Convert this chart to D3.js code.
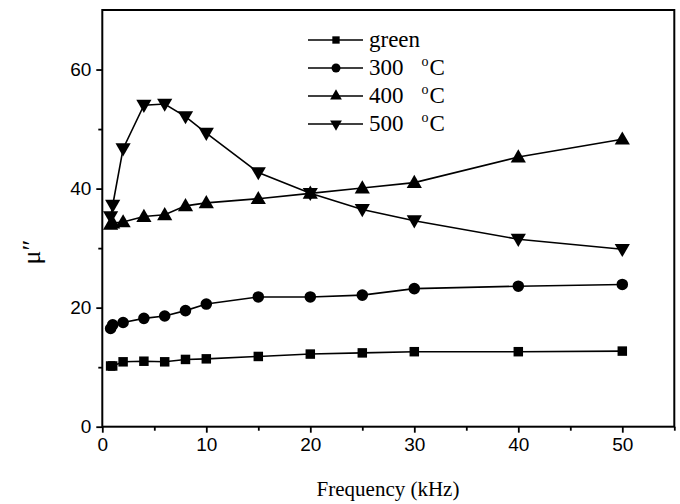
<!DOCTYPE html>
<html>
<head>
<meta charset="utf-8">
<script src="https://cdn.jsdelivr.net/npm/d3@7"></script>
<style>
  html, body { margin: 0; padding: 0; background: #fff; }
  svg { display: block; }
</style>
</head>
<body>
<svg id="chart" width="680" height="504"></svg>
<script>
const freq = [0.8, 1, 2, 4, 6, 8, 10, 15, 20, 25, 30, 40, 50];
const green = [10.2, 10.2, 10.9, 11.0, 10.9, 11.3, 11.4, 11.8, 12.2, 12.4, 12.6, 12.6, 12.7];
const t300 = [16.5, 17.1, 17.5, 18.2, 18.6, 19.5, 20.6, 21.8, 21.8, 22.1, 23.2, 23.6, 23.9];
const t400 = [34.0, 34.2, 34.4, 35.3, 35.6, 37.1, 37.6, 38.3, 39.2, 40.1, 41.0, 45.3, 48.3];
const t500 = [35.3, 37.2, 46.7, 54.0, 54.2, 52.1, 49.3, 42.7, 39.2, 36.5, 34.6, 31.5, 29.8];
const seriesNames = ["green", "300", "400", "500"];
const xTicks = [0, 10, 20, 30, 40, 50];
const yTicks = [0, 20, 40, 60];

const svg = d3.select("#chart");
const x = d3.scaleLinear().domain([0, 55]).range([102.3, 674.3]);
const y = d3.scaleLinear().domain([0, 70]).range([426.7, 10]);

const series = [
  { name: seriesNames[0], vals: green, sym: d3.symbolSquare, size: 90, rot: 0 },
  { name: seriesNames[1], vals: t300, sym: d3.symbolCircle, size: 105, rot: 0 },
  { name: seriesNames[2], vals: t400, sym: d3.symbolTriangle, size: 100, rot: 0 },
  { name: seriesNames[3], vals: t500, sym: d3.symbolTriangle, size: 100, rot: 180 }
];

const line = d3.line().x(d => x(d[0])).y(d => y(d[1]));
series.forEach(s => {
  const pts = freq.map((f, i) => [f, s.vals[i]]);
  svg.append("path").attr("d", line(pts)).attr("fill", "none")
    .attr("stroke", "#000").attr("stroke-width", 1.6);
  const sym = d3.symbol().type(s.sym).size(s.size);
  svg.selectAll(null).data(pts).enter().append("path")
    .attr("d", sym)
    .attr("transform", d => `translate(${x(d[0])},${y(d[1]) + (s.sym === d3.symbolTriangle ? (s.rot ? -1 : 1) : 0)}) rotate(${s.rot})`)
    .attr("fill", "#000");
});

// Frame
svg.append("rect").attr("x", x(0)).attr("y", y(70))
  .attr("width", x(55) - x(0)).attr("height", y(0) - y(70))
  .attr("fill", "none").attr("stroke", "#000").attr("stroke-width", 2);

// X axis
const xAxis = d3.axisBottom(x).tickValues(xTicks).tickSize(6).tickPadding(5).tickFormat(d3.format("d"));
const gx = svg.append("g").attr("transform", `translate(0,${y(0)})`).call(xAxis);
gx.select(".domain").remove();
gx.selectAll("line").attr("stroke-width", 1.8);
gx.selectAll("text").attr("font-family", "Liberation Sans, Arial, sans-serif").attr("font-size", 19).attr("fill", "#000");
const xMinor = d3.axisBottom(x).tickValues([5, 15, 25, 35, 45, 55]).tickSize(4).tickFormat("");
const gxm = svg.append("g").attr("transform", `translate(0,${y(0)})`).call(xMinor);
gxm.select(".domain").remove();
gxm.selectAll("line").attr("stroke-width", 1.8);

// Y axis
const yAxis = d3.axisLeft(y).tickValues(yTicks).tickSize(6).tickPadding(5).tickFormat(d3.format("d"));
const gy = svg.append("g").attr("transform", `translate(${x(0)},0)`).call(yAxis);
gy.select(".domain").remove();
gy.selectAll("line").attr("stroke-width", 1.8);
gy.selectAll("text").attr("font-family", "Liberation Sans, Arial, sans-serif").attr("font-size", 19).attr("fill", "#000");
const yMinor = d3.axisLeft(y).tickValues([10, 30, 50]).tickSize(4).tickFormat("");
const gym = svg.append("g").attr("transform", `translate(${x(0)},0)`).call(yMinor);
gym.select(".domain").remove();
gym.selectAll("line").attr("stroke-width", 1.8);

// Axis titles
svg.append("text").attr("x", 388).attr("y", 496).attr("text-anchor", "middle")
  .attr("font-family", "Liberation Serif, Times New Roman, serif").attr("font-size", 21)
  .text("Frequency (kHz)");
svg.append("text").attr("transform", "translate(40,252) rotate(-90)").attr("text-anchor", "middle")
  .attr("font-family", "Liberation Serif, Times New Roman, serif").attr("font-size", 26)
  .text("\u03bc\u2033");

// Legend
const legendY = [40, 68, 96, 124];
series.forEach((s, i) => {
  const ly = legendY[i];
  svg.append("line").attr("x1", 308).attr("x2", 363).attr("y1", ly).attr("y2", ly)
    .attr("stroke", "#000").attr("stroke-width", 1.6);
  svg.append("path").attr("d", d3.symbol().type(s.sym).size(s.size * 0.6))
    .attr("transform", `translate(336,${ly}) rotate(${s.rot})`).attr("fill", "#000");
  const t = svg.append("text").attr("x", 369).attr("y", ly + 7)
    .attr("font-family", "Liberation Serif, Times New Roman, serif").attr("font-size", 23);
  if (i === 0) {
    t.text(s.name);
  } else {
    t.append("tspan").text(s.name);
    t.append("tspan").attr("dx", 18).attr("dy", -9).attr("font-size", 14).text("o");
    t.append("tspan").attr("dx", 1).attr("dy", 9).text("C");
  }
});
</script>
</body>
</html>
